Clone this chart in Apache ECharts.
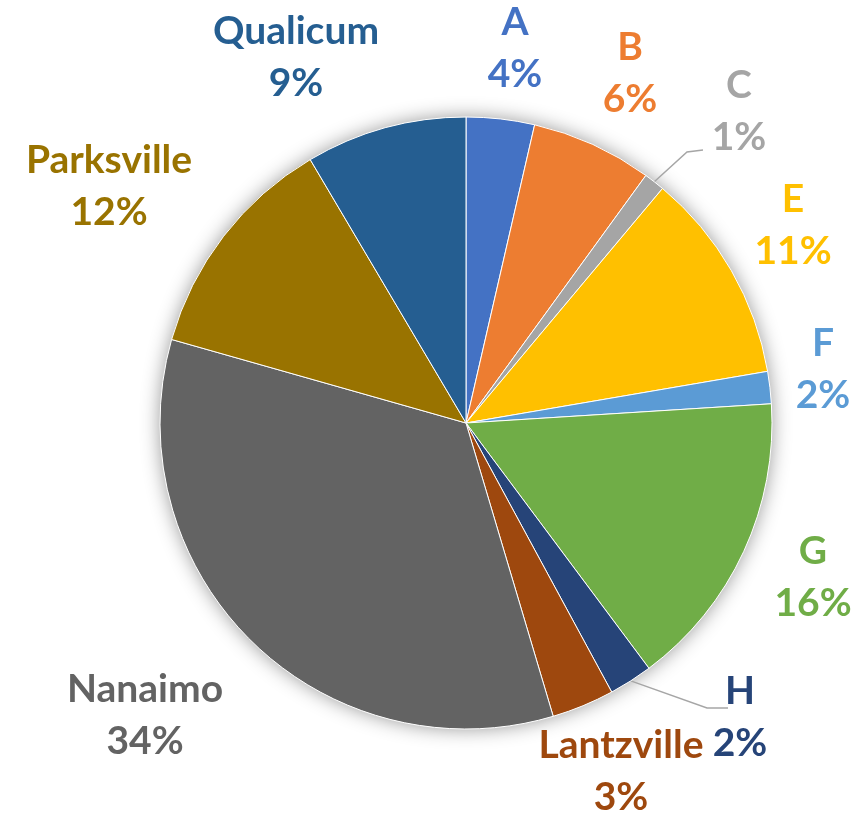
<!DOCTYPE html>
<html>
<head>
<meta charset="utf-8">
<script src="https://cdn.jsdelivr.net/npm/echarts@6/dist/echarts.min.js"></script>
<style>
  html, body { margin: 0; padding: 0; background: #fff; }
  #chart { width: 856px; height: 816px; }
</style>
</head>
<body>
<div id="chart"></div>
<script>
// slice names, clockwise from 12 o'clock
const names = ['A', 'B', 'C', 'E', 'F', 'G', 'H', 'Lantzville', 'Nanaimo', 'Parksville', 'Qualicum']
// share of each slice (%)
const values = [3.6, 6.4, 1.1, 11.2, 1.7, 15.8, 2.3, 3.3, 34.0, 12.1, 8.5]
// office palette
const colors = ['#4472C4', '#ED7D31', '#A5A5A5', '#FFC000', '#5B9BD5', '#70AD47',
  '#264478', '#9E480E', '#636363', '#997300', '#255E91']

// label block centres (px), same order as names
const labelPos = [
  [515, 48], [630, 73], [739, 111], [793, 225], [823, 369], [813, 577],
  [740, 717], [621, 771], [145, 715], [109, 186], [296, 57]
]
// leader lines: elbow and end, relative to the label centre
const leaders = {
  C: [[-52, 41], [-36, 39]],
  H: [[-33, -9], [-12, -9]]
}

const chart = echarts.init(document.getElementById('chart'))

chart.setOption({
  animation: false,
  series: [
    {
      // backdrop that only throws the soft shadow round the pie
      type: 'pie',
      silent: true,
      center: [466, 423],
      radius: 305,
      z: 1,
      label: { show: false },
      labelLine: { show: false },
      itemStyle: {
        color: '#fff',
        shadowBlur: 20,
        shadowColor: 'rgba(0, 0, 0, 0.45)'
      },
      data: [{ value: 1, name: '' }]
    },
    {
      type: 'pie',
      center: [466, 423],
      radius: 306,
      startAngle: 90,
      z: 2,
      itemStyle: {
        borderColor: '#fff',
        borderWidth: 1
      },
      label: {
        show: true,
        position: 'outside',
        color: 'inherit',
        fontFamily: 'Lato',
        fontWeight: 'bold',
        fontSize: 39,
        lineHeight: 52,
        align: 'center',
        overflow: 'none',
        formatter: p => p.name + '\n' + Math.round(p.percent) + '%'
      },
      labelLine: {
        length: 10,
        length2: 10,
        lineStyle: { color: '#a6a6a6', width: 1.5 }
      },
      labelLayout: p => {
        const name = names[p.dataIndex]
        const [x, y] = labelPos[p.dataIndex]
        const out = { x, y, align: 'center', verticalAlign: 'middle' }
        const lead = leaders[name]
        if (lead && p.labelLinePoints) {
          out.labelLinePoints = [
            p.labelLinePoints[0],
            [x + lead[0][0], y + lead[0][1]],
            [x + lead[1][0], y + lead[1][1]]
          ]
        }
        return out
      },
      data: names.map((n, i) => ({
        name: n,
        value: values[i],
        itemStyle: { color: colors[i] },
        labelLine: { show: n in leaders }
      }))
    }
  ]
})
</script>
</body>
</html>
